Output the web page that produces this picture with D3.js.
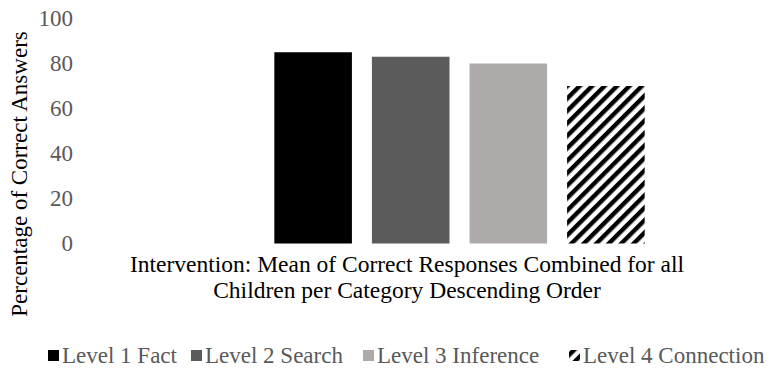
<!DOCTYPE html>
<html>
<head>
<meta charset="utf-8">
<script src="https://cdn.jsdelivr.net/npm/d3@7/dist/d3.min.js"></script>
<style>
  html, body { margin: 0; padding: 0; background: #fff; }
  svg { display: block; }
</style>
</head>
<body>
<svg id="chart" width="774" height="370"></svg>
<script>
// Chart data
const categories = ["Intervention: Mean of Correct Responses Combined for all|Children per Category Descending Order"];
const seriesNames = ["Level 1 Fact", "Level 2 Search", "Level 3 Inference", "Level 4 Connection"];
const seriesValues = [85, 83, 80, 70];
const yTicks = [0, 20, 40, 60, 80, 100];

const FONT = "'Liberation Serif', 'Times New Roman', 'DejaVu Serif', serif";
const fills = ["#000000", "#5b5b5b", "#aeaaaa", "url(#stripes)"];

const svg = d3.select("#chart");
const plot = { left: 148, right: 771, top: 18.5, bottom: 243.5 };

// Diagonal hatch used by the fourth series
const defs = svg.append("defs");
const pat = defs.append("pattern")
  .attr("id", "stripes")
  .attr("patternUnits", "userSpaceOnUse")
  .attr("width", 8.8).attr("height", 8.8)
  .attr("patternTransform", "rotate(45)");
pat.append("rect").attr("width", 8.8).attr("height", 8.8).attr("fill", "#fff");
pat.append("rect").attr("width", 4.4).attr("height", 8.8).attr("fill", "#000");

const y = d3.scaleLinear().domain([0, 100]).range([plot.bottom, plot.top]);

const x0 = d3.scaleBand().domain(categories)
  .range([plot.left, plot.right]).paddingInner(0).paddingOuter(0.298);
const x1 = d3.scaleBand().domain(seriesNames)
  .range([0, x0.bandwidth()]).paddingInner(0.205).paddingOuter(0.1025);

// Y axis: labels only
const yAxis = d3.axisLeft(y).tickValues(yTicks).tickSize(0).tickPadding(0);
const gy = svg.append("g").attr("transform", "translate(73,0)").call(yAxis);
gy.select(".domain").remove();
gy.attr("font-family", FONT).attr("font-size", 23);
gy.selectAll("text").attr("fill", "#595959");

// Bars
const g = svg.append("g").attr("transform", `translate(${x0(categories[0])},0)`);
g.selectAll("rect.bar")
  .data(seriesValues)
  .join("rect")
  .attr("class", "bar")
  .attr("x", (d, i) => x1(seriesNames[i]))
  .attr("width", x1.bandwidth())
  .attr("y", d => y(d))
  .attr("height", d => y(0) - y(d))
  .attr("fill", (d, i) => fills[i]);

// Category label, two centred lines
const catLines = categories[0].split("|");
const cat = svg.append("text")
  .attr("text-anchor", "middle")
  .attr("font-family", FONT)
  .attr("font-size", 23.5)
  .attr("fill", "#000");
cat.selectAll("tspan")
  .data(catLines)
  .join("tspan")
  .attr("x", 407)
  .attr("y", (d, i) => 272 + i * 25.5)
  .text(d => d);

// Y axis title
svg.append("text")
  .attr("transform", "translate(27,174) rotate(-90)")
  .attr("text-anchor", "middle")
  .attr("font-family", FONT)
  .attr("font-size", 23)
  .attr("fill", "#000")
  .text("Percentage of Correct Answers");

// Legend
const legendTextX = [62, 205, 377, 583];
const legend = svg.append("g");
seriesNames.forEach((name, i) => {
  const item = legend.append("g");
  item.append("rect")
    .attr("x", legendTextX[i] - 14).attr("y", 350)
    .attr("width", 11).attr("height", 11)
    .attr("fill", fills[i]);
  item.append("text")
    .attr("x", legendTextX[i]).attr("y", 363)
    .attr("font-family", FONT)
    .attr("font-size", 23)
    .attr("fill", "#595959")
    .text(name);
});
</script>
</body>
</html>
